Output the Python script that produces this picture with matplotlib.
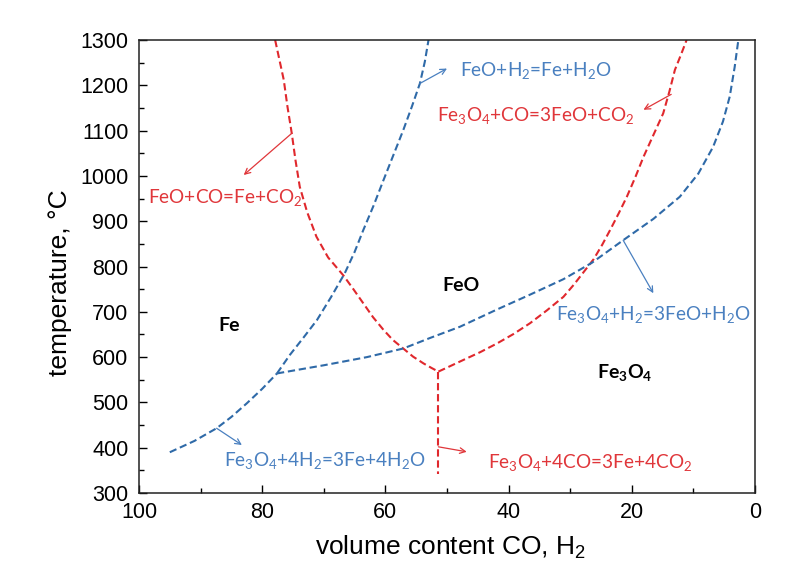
import matplotlib
matplotlib.use("Agg")
import matplotlib.pyplot as plt

plt.rcParams['font.family'] = ['Liberation Sans', 'DejaVu Sans']
plt.rcParams['mathtext.default'] = 'regular'

RED = "#e0282d"
BLUE = "#2f6aa8"
RED_TXT = "#e0363a"
BLUE_TXT = "#4a80c0"

# FeO/Fe boundary, CO
feo_fe_co_x = [77.9, 77.2, 76.5, 75.9, 75.2, 74.6, 73.9, 72.7, 71.2, 69.3, 66.8, 65.2, 63.6, 62.0, 60.3, 58.8, 57.1, 55.5, 53.8, 52.5, 51.4]
feo_fe_co_y = [1300, 1256, 1212, 1153, 1094, 1035, 976, 920, 866, 820, 780, 750, 719, 688, 660, 638, 619, 601, 586, 576, 568]

# Fe3O4/Fe boundary, CO (vertical below the triple point)
fe3o4_fe_co_x = [51.4, 51.4]
fe3o4_fe_co_y = [568, 343]

# Fe3O4/FeO boundary, CO
fe3o4_feo_co_x = [51.4, 49.5, 47.3, 44.6, 41.9, 39.2, 36.5, 33.8, 31.1, 29.4, 27.8, 26.2, 24.8, 23.5, 22.1, 20.8, 19.4, 18.1, 16.5, 14.9, 13.9, 13.0, 12.0, 11.1]
fe3o4_feo_co_y = [568, 580, 594, 611, 630, 651, 675, 703, 733, 760, 788, 816, 848, 881, 918, 954, 998, 1042, 1090, 1138, 1186, 1234, 1268, 1300]

# FeO/Fe boundary, H2
feo_fe_h2_x = [77.6, 75.5, 73.3, 71.1, 68.8, 66.6, 65.0, 63.6, 61.9, 60.3, 58.7, 57.1, 55.7, 54.4, 53.6, 53.0]
feo_fe_h2_y = [564, 605, 643, 682, 733, 785, 832, 880, 935, 991, 1046, 1101, 1153, 1204, 1252, 1300]

# Fe3O4/Fe boundary, H2
fe3o4_fe_h2_x = [95.0, 91.0, 87.4, 85.0, 82.5, 80.0, 77.6]
fe3o4_fe_h2_y = [390, 415, 443, 468, 498, 530, 564]

# Fe3O4/FeO boundary, H2
fe3o4_feo_h2_x = [77.6, 70.0, 63.0, 57.1, 52.8, 47.9, 41.9, 36.5, 31.1, 26.5, 21.4, 16.5, 12.2, 9.2, 6.8, 5.2, 4.1, 3.3, 2.7]
fe3o4_feo_h2_y = [564, 582, 600, 619, 642, 667, 705, 738, 772, 808, 858, 905, 954, 1005, 1064, 1120, 1175, 1240, 1300]

fig = plt.figure(figsize=(8.03, 5.68), dpi=100)
ax = fig.add_axes([0.1731, 0.132, 0.7671, 0.7976])

dash = (0, (3.5, 1.8))
lw = 1.5
ax.plot(feo_fe_co_x, feo_fe_co_y, color=RED, ls=dash, lw=lw)
ax.plot(fe3o4_fe_co_x, fe3o4_fe_co_y, color=RED, ls=dash, lw=lw)
ax.plot(fe3o4_feo_co_x, fe3o4_feo_co_y, color=RED, ls=dash, lw=lw)
ax.plot(feo_fe_h2_x, feo_fe_h2_y, color=BLUE, ls=dash, lw=lw)
ax.plot(fe3o4_fe_h2_x, fe3o4_fe_h2_y, color=BLUE, ls=dash, lw=lw)
ax.plot(fe3o4_feo_h2_x, fe3o4_feo_h2_y, color=BLUE, ls=dash, lw=lw)

ax.set_xlim(100, 0)
ax.set_ylim(300, 1300)
ax.set_xticks([100, 80, 60, 40, 20, 0])
ax.set_xticks([90, 70, 50, 30, 10], minor=True)
ax.set_yticks(range(300, 1301, 100))
ax.set_yticks(range(350, 1300, 100), minor=True)
ax.tick_params(direction='in', labelsize=15.5, length=6, width=1, top=False, right=False)
ax.tick_params(axis='y', pad=7.5)
ax.tick_params(axis='x', pad=6.5)
ax.tick_params(which='minor', direction='in', length=3.5, width=1)
for s in ax.spines.values():
    s.set_linewidth(1.1)
    s.set_color("#222222")

ax.set_xlabel("volume content CO, H$_2$", fontsize=19)
ax.set_ylabel("temperature, °C", fontsize=19)
ax.xaxis.set_label_coords(0.505, -0.09)
ax.yaxis.set_label_coords(-0.108, 0.464)

note = dict(family=['Lato', 'DejaVu Sans'], fontsize=13.7, va='center', ha='left')
arr = dict(arrowstyle='->', lw=0.9, shrinkA=0, shrinkB=0)

ax.annotate("", xy=(50.0, 1237), xytext=(54.4, 1204), arrowprops=dict(arr, color=BLUE_TXT))
ax.text(47.9, 1232, "FeO+H$_2$=Fe+H$_2$O", color=BLUE_TXT, **note)

ax.annotate("", xy=(18.1, 1146), xytext=(13.6, 1180), arrowprops=dict(arr, color=RED_TXT))
ax.text(51.6, 1134, "Fe$_3$O$_4$+CO=3FeO+CO$_2$", color=RED_TXT, **note)

ax.annotate("", xy=(83.0, 1002), xytext=(75.2, 1094), arrowprops=dict(arr, color=RED_TXT))
ax.text(98.5, 953, "FeO+CO=Fe+CO$_2$", color=RED_TXT, **note)

ax.annotate("", xy=(16.5, 741), xytext=(21.4, 858), arrowprops=dict(arr, color=BLUE_TXT))
ax.text(32.3, 695, "Fe$_3$O$_4$+H$_2$=3FeO+H$_2$O", color=BLUE_TXT, **note)

ax.annotate("", xy=(83.3, 406), xytext=(87.4, 443), arrowprops=dict(arr, color=BLUE_TXT))
ax.text(86.2, 371, "Fe$_3$O$_4$+4H$_2$=3Fe+4H$_2$O", color=BLUE_TXT, **note)

ax.annotate("", xy=(46.8, 391), xytext=(51.4, 402), arrowprops=dict(arr, color=RED_TXT))
ax.text(43.3, 368, "Fe$_3$O$_4$+4CO=3Fe+4CO$_2$", color=RED_TXT, **note)

phase = dict(family=['Lato', 'DejaVu Sans'], fontsize=14, fontweight='bold', ha='center', va='center')
ax.text(85.4, 669, "Fe", **phase)
ax.text(47.7, 757, "FeO", **phase)
ax.text(21.1, 567, "Fe$_3$O$_4$", **phase)

plt.savefig("out.png", dpi=100)
plt.close()
print("Saved: out.png")
